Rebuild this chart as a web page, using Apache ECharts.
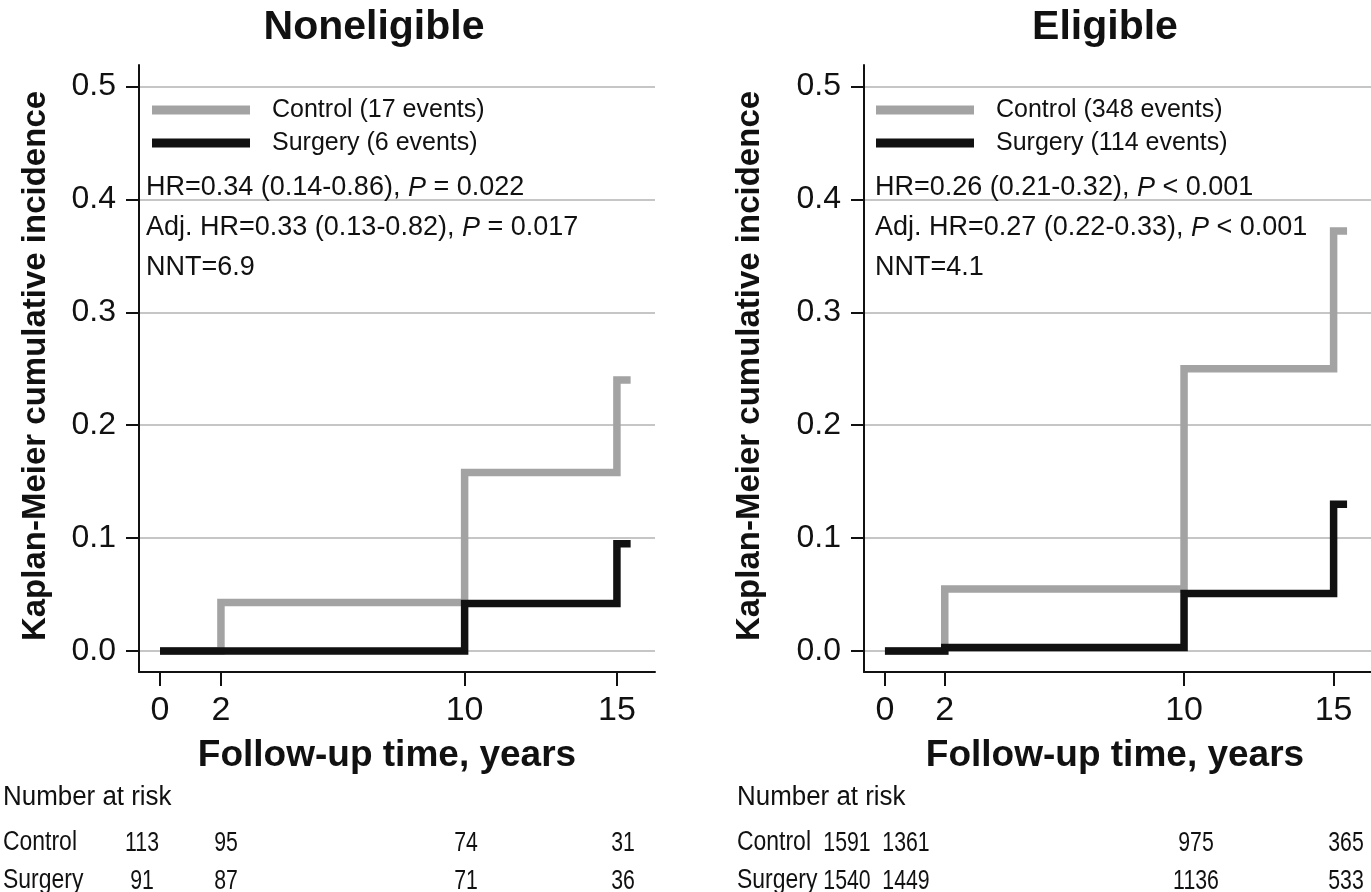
<!DOCTYPE html>
<html><head><meta charset="utf-8">
<script src="https://cdn.jsdelivr.net/npm/echarts@6/dist/echarts.min.js"></script>
<style>html,body{margin:0;padding:0;background:#fff}#c{width:1371px;height:892px}</style>
</head><body><div id="c"></div>
<script>
// ---- data ----
const xTicks = [0, 2, 10, 15];
const yTicks = [0, 0.1, 0.2, 0.3, 0.4, 0.5];
const neControl = [[0, 0], [2, 0.043], [10, 0.158], [15, 0.240], [15.45, 0.240]];
const neSurgery = [[0, 0], [10, 0.042], [15, 0.095], [15.45, 0.095]];
const elControl = [[0, 0], [2, 0.055], [10, 0.250], [15, 0.372], [15.45, 0.372]];
const elSurgery = [[0, 0], [2, 0.003], [10, 0.051], [15, 0.130], [15.45, 0.130]];
const neNames = ['Control (17 events)', 'Surgery (6 events)'];
const elNames = ['Control (348 events)', 'Surgery (114 events)'];
const neStats = ['HR=0.34 (0.14-0.86), {i|P} = 0.022', 'Adj. HR=0.33 (0.13-0.82), {i|P} = 0.017', 'NNT=6.9'];
const elStats = ['HR=0.26 (0.21-0.32), {i|P} < 0.001', 'Adj. HR=0.27 (0.22-0.33), {i|P} < 0.001', 'NNT=4.1'];
const panelTitles = ['Noneligible', 'Eligible'];
const xName = 'Follow-up time, years';
const yName = 'Kaplan-Meier cumulative incidence';
const riskHeader = 'Number at risk';
const riskRows = ['Control', 'Surgery'];
const neRiskControl = [113, 95, 74, 31];
const neRiskSurgery = [91, 87, 71, 36];
const elRiskControl = [1591, 1361, 975, 365];
const elRiskSurgery = [1540, 1449, 1136, 533];

// ---- style / layout ----
const F = "'Liberation Sans', Arial, Helvetica, sans-serif";
const GRAY = '#a3a3a3', BLACK = '#111111', INK = '#111111';
const panels = [
  {left: 139, width: 516, xmin: -0.69, titleX: 374, xNameX: 387, yNameX: 36,
   legendLeft: 152, statsX: 146, tableX: 3, cols: [142, 226, 466, 623]},
  {left: 864, width: 510.7, xmin: -0.7, titleX: 1105, xNameX: 1115, yNameX: 750,
   legendLeft: 876, statsX: 875, tableX: 737, cols: [847, 906, 1196, 1346]}
];
const gridTop = 65, gridHeight = 607, yMin = -0.0186, yMax = 0.519, xMax = 16.25;

const chart = echarts.init(document.getElementById('c'), null, {renderer: 'canvas'});

function xAxis(i) {
  return {type: 'value', gridIndex: i, min: panels[i].xmin, max: xMax,
    axisLine: {show: true, onZero: false, lineStyle: {color: INK, width: 2}},
    axisTick: {show: true, customValues: xTicks, length: 14, lineStyle: {color: INK, width: 2}},
    axisLabel: {customValues: xTicks, margin: 22, fontSize: 34, color: INK, fontFamily: F},
    splitLine: {show: false}};
}
function yAxis(i) {
  return {type: 'value', gridIndex: i, min: yMin, max: yMax,
    axisLine: {show: true, onZero: false, lineStyle: {color: INK, width: 2}},
    axisTick: {show: true, customValues: yTicks, length: 13, lineStyle: {color: INK, width: 2}},
    axisLabel: {customValues: yTicks, formatter: v => v.toFixed(1), margin: 23, fontSize: 32, color: INK, fontFamily: F},
    splitLine: {show: true, lineStyle: {color: '#c6c6c6', width: 2}}};
}
function line(name, data, color, i) {
  return {type: 'line', name, data, step: 'end', xAxisIndex: i, yAxisIndex: i,
    symbol: 'none', color, silent: true, animation: false,
    lineStyle: {color, width: 7.5, cap: 'butt', join: 'miter'}, itemStyle: {color}};
}
function legend(i, names) {
  return {data: names, orient: 'vertical', left: panels[i].legendLeft, top: 97.5, padding: 0,
    icon: 'rect', itemWidth: 98, itemHeight: 9, itemGap: 8, selectedMode: false,
    textStyle: {fontSize: 25, lineHeight: 25, color: INK, fontFamily: F, padding: [0, 0, 0, 17]}};
}

const graphics = [];
function txt(x, y, text, size, opts) {
  opts = opts || {};
  const st = {text, x: 0, y: 0, fill: INK, fontSize: size, fontFamily: F,
    fontWeight: opts.bold ? 'bold' : 'normal',
    align: opts.align || 'left', verticalAlign: 'middle',
    textAlign: opts.align || 'left', textVerticalAlign: 'middle'};
  if (opts.rich) st.rich = {i: {fontStyle: 'italic', fontSize: size, fontFamily: F, fill: INK}};
  graphics.push({type: 'text', x, y, rotation: opts.rot || 0, scaleX: opts.sx || 1,
    silent: true, z: 100, style: st});
}
[neStats, elStats].forEach((stats, i) => {
  const p = panels[i];
  txt(p.titleX, 28, panelTitles[i], 41, {bold: true, align: 'center'});
  txt(p.xNameX, 756, xName, 37, {bold: true, align: 'center'});
  txt(p.yNameX, 366, yName, 33, {bold: true, align: 'center', rot: Math.PI / 2});
  stats.forEach((s, k) => txt(p.statsX, 188 + 40 * k, s, 27, {rich: true}));
  txt(p.tableX, 798, riskHeader, 27, {sx: 0.96});
  txt(p.tableX, 843, riskRows[0], 27, {sx: 0.85});
  txt(p.tableX, 881, riskRows[1], 27, {sx: 0.85});
});
[[neRiskControl, neRiskSurgery], [elRiskControl, elRiskSurgery]].forEach((rows, i) => {
  rows.forEach((vals, r) => vals.forEach((v, k) =>
    txt(panels[i].cols[k], r ? 881 : 843, String(v), 28, {align: 'center', sx: 0.76})));
});

chart.setOption({
  backgroundColor: '#ffffff',
  animation: false,
  grid: panels.map(p => ({left: p.left, top: gridTop, width: p.width, height: gridHeight, containLabel: false})),
  xAxis: [xAxis(0), xAxis(1)],
  yAxis: [yAxis(0), yAxis(1)],
  legend: [legend(0, neNames), legend(1, elNames)],
  series: [
    line(neNames[0], neControl, GRAY, 0),
    line(neNames[1], neSurgery, BLACK, 0),
    line(elNames[0], elControl, GRAY, 1),
    line(elNames[1], elSurgery, BLACK, 1)
  ],
  graphic: graphics
});
</script></body></html>
